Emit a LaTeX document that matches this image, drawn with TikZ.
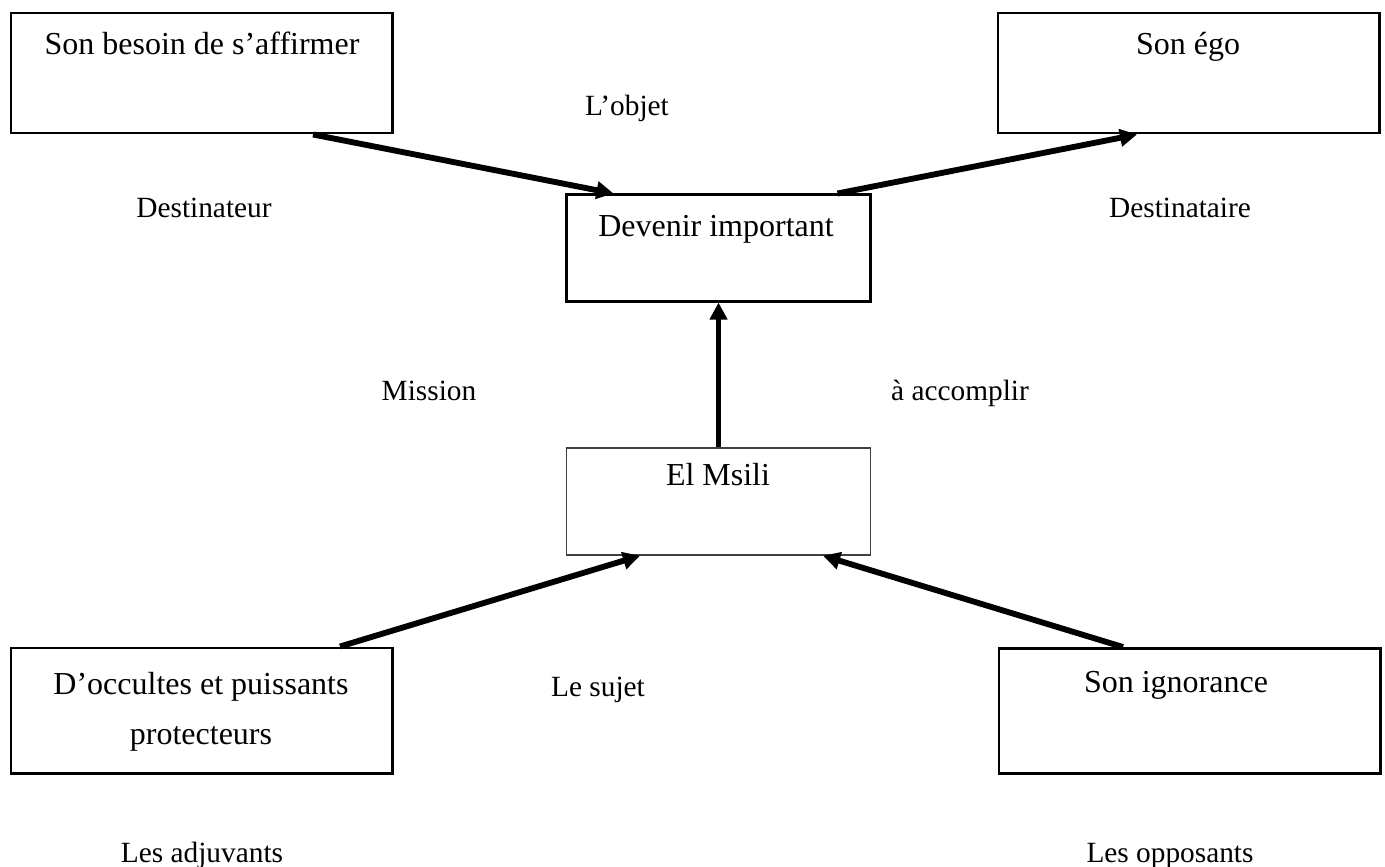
\documentclass[tikz,border=0pt]{standalone}
\usepackage{fontspec}
\setmainfont{Liberation Serif}
\usetikzlibrary{calc,arrows.meta,positioning}
\tikzset{
  box/.style={draw,line width=1.1pt,inner sep=0pt,minimum width=142.9pt,minimum height=45pt},
  midbox/.style={draw,line width=1.1pt,inner sep=0pt,minimum width=114pt,minimum height=39.8pt},
  thinbox/.style={draw=black!75,line width=0.55pt,inner sep=0pt,minimum width=114pt,minimum height=40.1pt},
  boxtxt/.style={font=\fontsize{12}{18.75}\selectfont,anchor=base,inner sep=0pt},
  lbl/.style={font=\fontsize{11}{13}\selectfont,anchor=base,inner sep=0pt},
  ar/.style={-{Triangle[length=6.4pt,width=6.4pt]},line width=2.2pt}
}
\begin{document}
\begin{tikzpicture}[x=0.375pt,y=-0.375pt]
\useasboundingbox (0,0) rectangle (1385,866);
% cases
\node[box] (dest) at (201.5,73) {};
\node[box] (dire) at (1188.5,73) {};
\node[midbox] (obj) at (718.5,248) {};
\node[thinbox] (suj) at (718.5,501.5) {};
\node[box,minimum height=46.9pt] (adj) at (201.5,710.5) {};
\node[box,minimum height=46.9pt] (opp) at (1189.5,711) {};
% textes des cases
\node[boxtxt] (tdest) at (202,54) {Son besoin de s’affirmer};
\node[boxtxt] (tdire) at (1188,54) {Son égo};
\node[boxtxt] (tobj) at (716,236) {Devenir important};
\node[boxtxt] (tsuj) at (718,485) {El Msili};
\node[boxtxt] (tadj) at (201,694) {D’occultes et puissants};
\node[boxtxt] (tadjb) at (201,744) {protecteurs};
\node[boxtxt] (topp) at (1176,692) {Son ignorance};
% roles
\node[lbl] (lobj) at (627,115) {L’objet};
\node[lbl] (ldest) at (204,217) {Destinateur};
\node[lbl] (ldire) at (1180,217) {Destinataire};
\node[lbl] (lmis) at (429,400) {Mission};
\node[lbl] (lacc) at (960,400) {à accomplir};
\node[lbl] (lsuj) at (598,696) {Le sujet};
\node[lbl] (ladj) at (202,862) {Les adjuvants};
\node[lbl] (lopp) at (1170,862) {Les opposants};
% fleches
\draw[ar] ($(dest.south)+(111.5,0)$) -- ($(obj.north)+(-105,0)$);
\draw[ar] ($(obj.north)+(119,0)$) -- ($(dire.south)+(-51.5,0)$);
\draw[ar] (suj.north) -- (obj.south);
\draw[ar] ($(adj.north)+(138.5,0)$) -- ($(suj.south)+(-78.5,0)$);
\draw[ar] ($(opp.north)+(-66.5,0)$) -- ($(suj.south)+(104.5,0)$);
\end{tikzpicture}
\end{document}
